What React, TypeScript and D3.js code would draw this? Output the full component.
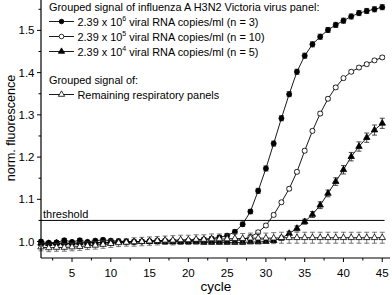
import React, { useRef, useEffect } from 'react';
import * as d3 from 'd3';

const cycles = [1, 2, 3, 4, 5, 6, 7, 8, 9, 10, 11, 12, 13, 14, 15, 16, 17, 18, 19, 20, 21, 22, 23,
  24, 25, 26, 27, 28, 29, 30, 31, 32, 33, 34, 35, 36, 37, 38, 39, 40, 41, 42, 43, 44, 45];

// 2.39 x 10^6 copies/ml
const high = [1.000, 0.997, 0.998, 1.003, 0.999, 1.003, 0.999, 1.002, 1.004, 1.002,
  1.001, 1.000, 0.999, 1.000, 1.001, 1.002, 1.002, 1.001, 1.001, 1.002,
  1.003, 1.005, 1.007, 1.010, 1.014, 1.023, 1.041, 1.071, 1.120, 1.173,
  1.232, 1.292, 1.349, 1.402, 1.440, 1.467, 1.485, 1.501, 1.513, 1.523,
  1.533, 1.541, 1.546, 1.550, 1.555];
const highErr = [0.004, 0.004, 0.004, 0.004, 0.004, 0.004, 0.004, 0.004, 0.004, 0.004,
  0.004, 0.004, 0.004, 0.004, 0.004, 0.004, 0.004, 0.004, 0.004, 0.004,
  0.004, 0.004, 0.004, 0.004, 0.005, 0.005, 0.005, 0.005, 0.006, 0.006,
  0.006, 0.006, 0.006, 0.006, 0.006, 0.006, 0.006, 0.006, 0.006, 0.006,
  0.006, 0.006, 0.006, 0.006, 0.006];

// 2.39 x 10^5 copies/ml
const mid = [0.994, 0.994, 0.995, 0.995, 0.996, 0.996, 0.997, 0.997, 0.998, 0.998,
  0.999, 0.999, 1.000, 1.000, 1.000, 1.001, 1.001, 1.001, 1.001, 1.001,
  1.001, 1.001, 1.001, 1.001, 1.002, 1.003, 1.004, 1.011, 1.022, 1.038,
  1.063, 1.093, 1.125, 1.165, 1.215, 1.262, 1.303, 1.338, 1.365, 1.387,
  1.402, 1.412, 1.420, 1.429, 1.436];
const midErr = [0.003, 0.003, 0.003, 0.003, 0.003, 0.003, 0.003, 0.003, 0.003, 0.003,
  0.003, 0.003, 0.003, 0.003, 0.003, 0.003, 0.003, 0.003, 0.003, 0.003,
  0.003, 0.003, 0.003, 0.003, 0.003, 0.003, 0.003, 0.004, 0.004, 0.004,
  0.004, 0.004, 0.004, 0.004, 0.004, 0.004, 0.004, 0.004, 0.004, 0.004,
  0.004, 0.004, 0.004, 0.004, 0.004];

// 2.39 x 10^4 copies/ml
const low = [0.996, 0.995, 0.996, 0.997, 0.996, 0.997, 0.997, 0.998, 0.998, 0.998,
  0.999, 0.999, 0.999, 1.000, 1.000, 1.000, 0.999, 0.999, 0.999, 0.999,
  0.999, 0.998, 0.998, 0.998, 0.998, 0.998, 0.998, 0.999, 0.999, 1.000,
  1.002, 1.008, 1.019, 1.031, 1.047, 1.064, 1.086, 1.114, 1.142, 1.170,
  1.201, 1.225, 1.246, 1.264, 1.280];
const lowErr = [0.004, 0.004, 0.004, 0.004, 0.004, 0.004, 0.004, 0.004, 0.004, 0.004,
  0.004, 0.004, 0.004, 0.004, 0.004, 0.004, 0.004, 0.004, 0.004, 0.004,
  0.004, 0.004, 0.004, 0.004, 0.004, 0.004, 0.004, 0.004, 0.004, 0.004,
  0.004, 0.005, 0.005, 0.006, 0.006, 0.007, 0.008, 0.008, 0.009, 0.010,
  0.010, 0.011, 0.011, 0.012, 0.012];

// remaining respiratory panels
const other = [0.987, 0.985, 0.986, 0.986, 0.987, 0.988, 0.990, 0.991, 0.993, 0.995,
  0.997, 0.998, 0.999, 1.000, 1.001, 1.002, 1.003, 1.003, 1.004, 1.004,
  1.005, 1.005, 1.006, 1.006, 1.006, 1.007, 1.007, 1.008, 1.008, 1.008,
  1.008, 1.009, 1.009, 1.009, 1.009, 1.009, 1.009, 1.009, 1.009, 1.009,
  1.009, 1.009, 1.009, 1.009, 1.009];
const otherErr = [0.009, 0.009, 0.009, 0.009, 0.009, 0.009, 0.009, 0.009, 0.009, 0.009,
  0.009, 0.009, 0.010, 0.010, 0.010, 0.010, 0.010, 0.011, 0.011, 0.011,
  0.011, 0.011, 0.012, 0.012, 0.012, 0.012, 0.012, 0.012, 0.012, 0.012,
  0.013, 0.013, 0.013, 0.013, 0.013, 0.013, 0.013, 0.013, 0.013, 0.013,
  0.013, 0.013, 0.013, 0.013, 0.013];

const threshold = 1.05;
const xTicks = [5, 10, 15, 20, 25, 30, 35, 40, 45];
const xMinor = [2.5, 7.5, 12.5, 17.5, 22.5, 27.5, 32.5, 37.5, 42.5];
const yTicks = [1.0, 1.1, 1.2, 1.3, 1.4, 1.5];
const yMinor = [1.05, 1.15, 1.25, 1.35, 1.45, 1.55];

const series = [
  { key: 'high', values: high, err: highErr, shape: d3.symbolCircle, fill: '#000', exp: '6', n: '3' },
  { key: 'mid', values: mid, err: midErr, shape: d3.symbolCircle, fill: '#fff', exp: '5', n: '10' },
  { key: 'low', values: low, err: lowErr, shape: d3.symbolTriangle, fill: '#000', exp: '4', n: '5' },
  { key: 'other', values: other, err: otherErr, shape: d3.symbolTriangle, fill: '#fff', exp: '', n: '' },
];

const font = '"Liberation Sans", Arial, sans-serif';

function App() {
  const svgRef = useRef<SVGSVGElement>(null);

  useEffect(() => {
    const width = 392;
    const height = 295;
    const margin = { top: 0, right: 2, bottom: 37, left: 41 };

    const svg = d3.select(svgRef.current);
    svg.selectAll('*').remove();

    const x = d3.scaleLinear().domain([1, 46]).range([margin.left, width - margin.right]);
    const y = d3.scaleLinear().domain([0.961, 1.572]).range([height - margin.bottom, margin.top]);

    const plotBottom = height - margin.bottom;

    // threshold
    svg.append('line')
      .attr('x1', x(1)).attr('x2', x(45.3))
      .attr('y1', y(threshold)).attr('y2', y(threshold))
      .attr('stroke', '#000').attr('stroke-width', 1);
    svg.append('text')
      .attr('x', 43).attr('y', y(threshold) - 2.5)
      .attr('font-size', 11).attr('font-family', font)
      .text('threshold');

    const line = d3.line<number>()
      .x((d, i) => x(cycles[i]))
      .y(d => y(d));

    series.forEach(s => {
      const g = svg.append('g');
      g.append('path')
        .attr('d', line(s.values))
        .attr('fill', 'none')
        .attr('stroke', '#000')
        .attr('stroke-width', 0.9);

      // error bars
      const eb = g.append('g').attr('stroke', s.key === 'other' ? '#444' : '#000').attr('stroke-width', 0.7);
      s.values.forEach((v, i) => {
        const cx = x(cycles[i]);
        const y0 = y(v - s.err[i]);
        const y1 = y(v + s.err[i]);
        eb.append('line').attr('x1', cx).attr('x2', cx).attr('y1', y0).attr('y2', y1);
        eb.append('line').attr('x1', cx - 2.5).attr('x2', cx + 2.5).attr('y1', y0).attr('y2', y0);
        eb.append('line').attr('x1', cx - 2.5).attr('x2', cx + 2.5).attr('y1', y1).attr('y2', y1);
      });

      const sym = d3.symbol().type(s.shape).size(s.shape === d3.symbolCircle ? 20 : 18);
      g.selectAll('.pt')
        .data(s.values)
        .join('path')
        .attr('d', sym())
        .attr('transform', (d, i) => `translate(${x(cycles[i])},${y(d)})`)
        .attr('fill', s.fill)
        .attr('stroke', '#000')
        .attr('stroke-width', 0.8);
    });

    // axes
    svg.append('line')
      .attr('x1', margin.left).attr('x2', margin.left)
      .attr('y1', 0).attr('y2', plotBottom)
      .attr('stroke', '#000').attr('stroke-width', 1.2);
    svg.append('line')
      .attr('x1', margin.left).attr('x2', width - margin.right)
      .attr('y1', plotBottom).attr('y2', plotBottom)
      .attr('stroke', '#000').attr('stroke-width', 1.2);

    svg.append('g').selectAll('line')
      .data(xTicks).join('line')
      .attr('x1', d => x(d)).attr('x2', d => x(d))
      .attr('y1', plotBottom).attr('y2', plotBottom + 4)
      .attr('stroke', '#000');
    svg.append('g').selectAll('line')
      .data(xMinor).join('line')
      .attr('x1', d => x(d)).attr('x2', d => x(d))
      .attr('y1', plotBottom).attr('y2', plotBottom + 2.5)
      .attr('stroke', '#000');
    svg.append('g').selectAll('text')
      .data(xTicks).join('text')
      .attr('x', d => x(d)).attr('y', 277)
      .attr('text-anchor', 'middle')
      .attr('font-size', 11.5).attr('font-family', font)
      .text(d => d);

    svg.append('g').selectAll('line')
      .data(yTicks).join('line')
      .attr('x1', margin.left - 4).attr('x2', margin.left)
      .attr('y1', d => y(d)).attr('y2', d => y(d))
      .attr('stroke', '#000');
    svg.append('g').selectAll('line')
      .data(yMinor).join('line')
      .attr('x1', margin.left - 2.5).attr('x2', margin.left)
      .attr('y1', d => y(d)).attr('y2', d => y(d))
      .attr('stroke', '#000');
    svg.append('g').selectAll('text')
      .data(yTicks).join('text')
      .attr('x', 34.5).attr('y', d => y(d) + 4)
      .attr('text-anchor', 'end')
      .attr('font-size', 11.5).attr('font-family', font)
      .text(d => d3.format('.1f')(d));

    svg.append('text')
      .attr('transform', 'translate(15,128) rotate(-90)')
      .attr('text-anchor', 'middle')
      .attr('font-size', 12.5).attr('font-family', font)
      .text('norm. fluorescence');
    svg.append('text')
      .attr('x', 216).attr('y', 291)
      .attr('text-anchor', 'middle')
      .attr('font-size', 13.5).attr('font-family', font)
      .text('cycle');

    // legend
    const legend = svg.append('g').attr('font-family', font).attr('font-size', 10.9);
    legend.append('text').attr('x', 49).attr('y', 11)
      .text('Grouped signal of influenza A H3N2 Victoria virus panel:');
    legend.append('text').attr('x', 49).attr('y', 84)
      .text('Grouped signal of:');

    const rowY = [21.5, 36.5, 51.5, 94.5];
    series.forEach((s, i) => {
      const cy = rowY[i];
      legend.append('line')
        .attr('x1', 49).attr('x2', 74).attr('y1', cy).attr('y2', cy)
        .attr('stroke', '#000').attr('stroke-width', 0.9);
      legend.append('path')
        .attr('d', d3.symbol().type(s.shape).size(17)())
        .attr('transform', `translate(61.5,${cy})`)
        .attr('fill', s.fill).attr('stroke', '#000').attr('stroke-width', 0.8);
      const t = legend.append('text').attr('x', 77.5).attr('y', cy + 4);
      if (s.exp) {
        t.append('tspan').text('2.39 x 10');
        t.append('tspan').attr('dy', -4.5).attr('font-size', 7).text(s.exp);
        t.append('tspan').attr('dy', 4.5).text(` viral RNA copies/ml (n = ${s.n})`);
      } else {
        t.text('Remaining respiratory panels');
      }
    });
  }, []);

  return (
    <div style={{ position: 'absolute', left: 0, top: 0 }}>
      <svg ref={svgRef} width={392} height={295} style={{ display: 'block', background: '#fff' }}></svg>
    </div>
  );
}

export default App;
